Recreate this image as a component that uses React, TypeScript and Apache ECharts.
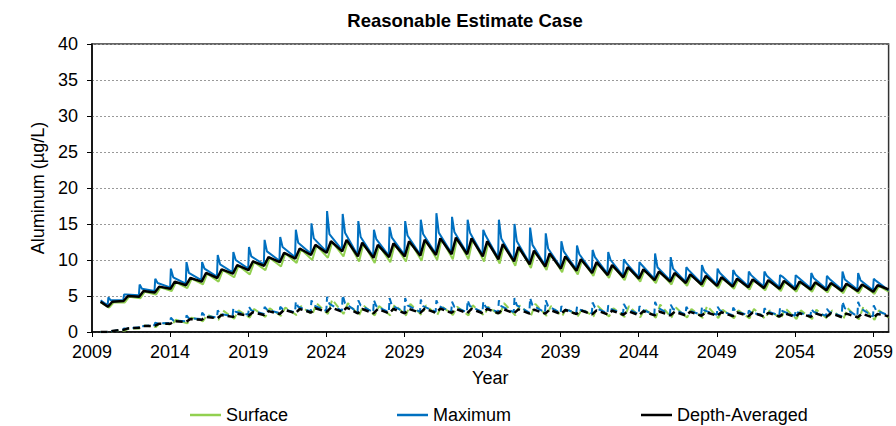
import React, { useEffect, useRef } from "react";
import * as echarts from "echarts";

// ---------- data ----------
const YEARS = [
  2010, 2011, 2012, 2013, 2014, 2015, 2016, 2017, 2018, 2019,
  2020, 2021, 2022, 2023, 2024, 2025, 2026, 2027, 2028, 2029,
  2030, 2031, 2032, 2033, 2034, 2035, 2036, 2037, 2038, 2039,
  2040, 2041, 2042, 2043, 2044, 2045, 2046, 2047, 2048, 2049,
  2050, 2051, 2052, 2053, 2054, 2055, 2056, 2057, 2058, 2059,
];
const X_TICKS = [2009, 2014, 2019, 2024, 2029, 2034, 2039, 2044, 2049, 2054, 2059];
const START_TIME = 2009.55;
const END_TIME = 2060;

// Upper band (solid lines)
const DA_LOW = [
  3.5, 4.3, 4.9, 5.5, 6.0, 6.5, 7.0, 7.5, 8.1, 8.6,
  9.2, 9.7, 10.2, 10.7, 11.0, 11.2, 10.5, 10.3, 10.4, 10.5,
  10.6, 10.7, 10.8, 10.8, 10.5, 10.1, 9.8, 9.4, 9.1, 8.8,
  8.5, 8.2, 7.9, 7.6, 7.4, 7.2, 7.0, 6.8, 6.6, 6.4,
  6.3, 6.2, 6.1, 6.0, 5.9, 5.9, 5.8, 5.7, 5.7, 5.6,
];
const DA_HIGH = [
  4.2, 5.0, 5.7, 6.3, 7.0, 7.5, 8.2, 8.7, 9.3, 9.8,
  10.4, 11.0, 11.6, 12.1, 12.6, 12.8, 12.4, 12.1, 12.3, 12.6,
  12.8, 13.0, 13.1, 13.0, 12.6, 12.2, 11.8, 11.3, 10.9, 10.5,
  10.1, 9.7, 9.3, 9.0, 8.7, 8.4, 8.2, 8.0, 7.8, 7.6,
  7.4, 7.3, 7.2, 7.1, 7.0, 6.9, 6.8, 6.7, 6.6, 6.5,
];
const DA_START = 4.2;
const DA_END = 5.9;

const MAX_LOW = [
  3.7, 4.4, 5.1, 5.7, 6.2, 6.7, 7.2, 7.7, 8.3, 8.8,
  9.4, 9.9, 10.4, 10.9, 11.2, 11.4, 10.7, 10.5, 10.6, 10.7,
  10.8, 10.9, 11.0, 11.0, 10.7, 10.3, 10.0, 9.6, 9.3, 9.0,
  8.7, 8.4, 8.1, 7.8, 7.6, 7.4, 7.2, 7.0, 6.8, 6.6,
  6.5, 6.4, 6.3, 6.2, 6.1, 6.1, 6.0, 5.9, 5.9, 5.8,
];
const MAX_SPIKE = [
  4.8, 5.2, 6.6, 7.4, 8.8, 9.7, 9.7, 10.7, 11.1, 11.8,
  12.8, 13.2, 14.2, 15.1, 16.8, 16.4, 15.4, 14.2, 14.6, 15.4,
  15.6, 16.5, 16.0, 15.6, 14.2, 15.6, 15.0, 14.5, 13.7, 12.6,
  12.0, 11.4, 11.1, 10.1, 9.7, 10.9, 10.4, 9.0, 9.3, 8.8,
  8.6, 8.4, 8.4, 7.9, 7.9, 8.2, 7.8, 8.4, 8.2, 7.4,
];
const MAX_MID = [
  4.4, 5.2, 6.0, 6.8, 7.6, 8.2, 8.8, 9.4, 10.0, 10.5,
  11.2, 11.8, 12.4, 13.0, 13.6, 13.8, 13.2, 12.9, 13.1, 13.4,
  13.6, 13.8, 13.9, 13.8, 13.4, 13.0, 12.6, 12.1, 11.6, 11.2,
  10.8, 10.4, 10.0, 9.6, 9.3, 9.0, 8.8, 8.6, 8.4, 8.2,
  8.0, 7.9, 7.8, 7.7, 7.6, 7.5, 7.4, 7.3, 7.2, 7.1,
];
const MAX_START = 4.4;
const MAX_END = 5.8;

const SURF_LOW = [
  3.4, 4.1, 4.7, 5.2, 5.7, 6.1, 6.6, 7.0, 7.6, 8.0,
  8.6, 9.1, 9.6, 10.0, 10.3, 10.5, 9.8, 9.6, 9.7, 9.8,
  9.9, 10.0, 10.1, 10.1, 9.8, 9.5, 9.2, 8.9, 8.6, 8.3,
  8.0, 7.8, 7.5, 7.2, 7.0, 6.8, 6.6, 6.4, 6.3, 6.1,
  6.0, 5.9, 5.8, 5.7, 5.6, 5.6, 5.5, 5.4, 5.4, 5.3,
];
const SURF_HIGH = [
  4.1, 4.9, 5.6, 6.2, 6.9, 7.4, 8.1, 8.6, 9.2, 9.7,
  10.3, 10.9, 11.5, 12.0, 12.5, 12.6, 12.3, 12.0, 12.2, 12.5,
  12.7, 12.9, 13.0, 12.9, 12.5, 12.1, 11.7, 11.2, 10.8, 10.4,
  10.0, 9.6, 9.2, 8.9, 8.6, 8.3, 8.1, 7.9, 7.7, 7.5,
  7.3, 7.2, 7.1, 7.0, 6.9, 6.8, 6.7, 6.6, 6.5, 6.4,
];
const SURF_START = 4.1;
const SURF_END = 5.6;

// Lower band (dashed lines)
const DA2_LOW = [
  0.0, 0.3, 0.6, 0.85, 1.15, 1.4, 1.7, 1.9, 2.1, 2.25,
  2.35, 2.5, 2.6, 2.7, 2.8, 2.8, 2.6, 2.6, 2.6, 2.6,
  2.65, 2.65, 2.65, 2.6, 2.6, 2.6, 2.6, 2.55, 2.55, 2.5,
  2.5, 2.45, 2.45, 2.4, 2.35, 2.3, 2.3, 2.3, 2.25, 2.25,
  2.2, 2.2, 2.15, 2.15, 2.1, 2.1, 2.1, 2.05, 2.05, 2.0,
];
const DA2_HIGH = [
  0.15, 0.5, 0.85, 1.15, 1.5, 1.8, 2.1, 2.35, 2.55, 2.75,
  2.9, 3.1, 3.2, 3.3, 3.4, 3.4, 3.2, 3.2, 3.2, 3.2,
  3.25, 3.25, 3.2, 3.2, 3.2, 3.2, 3.15, 3.1, 3.1, 3.05,
  3.0, 3.0, 2.95, 2.9, 2.9, 2.85, 2.8, 2.8, 2.75, 2.75,
  2.7, 2.7, 2.65, 2.65, 2.6, 2.6, 2.6, 2.55, 2.55, 2.5,
];
const DA2_START = 0.0;
const DA2_END = 2.2;

const MAX2_LOW = [
  0.0, 0.35, 0.65, 0.95, 1.25, 1.5, 1.8, 2.0, 2.2, 2.4,
  2.5, 2.65, 2.75, 2.85, 2.95, 2.95, 2.75, 2.75, 2.75, 2.75,
  2.8, 2.8, 2.8, 2.75, 2.75, 2.75, 2.75, 2.7, 2.7, 2.65,
  2.65, 2.6, 2.6, 2.55, 2.5, 2.45, 2.45, 2.45, 2.4, 2.4,
  2.35, 2.35, 2.3, 2.3, 2.25, 2.25, 2.25, 2.2, 2.2, 2.15,
];
const MAX2_SPIKE = [
  0.1, 0.5, 0.9, 1.3, 2.0, 2.3, 2.7, 3.0, 3.3, 3.5,
  3.5, 3.5, 4.2, 4.4, 4.9, 5.1, 4.4, 4.4, 4.7, 4.7,
  4.5, 4.4, 4.2, 4.4, 4.2, 4.4, 4.7, 4.7, 4.4, 3.6,
  3.5, 4.1, 3.7, 3.9, 3.6, 4.2, 3.8, 3.5, 3.5, 3.5,
  3.4, 3.0, 3.3, 3.4, 3.0, 3.2, 3.2, 4.2, 4.2, 3.7,
];
const MAX2_MID = [
  0.1, 0.45, 0.8, 1.2, 1.6, 1.9, 2.3, 2.5, 2.8, 3.0,
  3.1, 3.2, 3.5, 3.7, 3.9, 4.0, 3.7, 3.6, 3.7, 3.7,
  3.6, 3.6, 3.5, 3.6, 3.5, 3.6, 3.7, 3.7, 3.6, 3.2,
  3.1, 3.4, 3.2, 3.3, 3.1, 3.4, 3.2, 3.0, 3.0, 3.0,
  2.9, 2.7, 2.9, 2.9, 2.7, 2.8, 2.8, 3.3, 3.3, 3.0,
];
const MAX2_START = 0.0;
const MAX2_END = 2.3;

const SURF2_LOW = [
  0.0, 0.2, 0.5, 0.7, 1.0, 1.2, 1.5, 1.7, 1.85, 2.0,
  2.1, 2.25, 2.35, 2.4, 2.5, 2.5, 2.3, 2.3, 2.3, 2.3,
  2.35, 2.35, 2.35, 2.3, 2.3, 2.3, 2.3, 2.25, 2.25, 2.2,
  2.2, 2.15, 2.15, 2.1, 2.05, 2.0, 2.0, 2.0, 1.95, 1.95,
  1.9, 1.9, 1.85, 1.85, 1.8, 1.8, 1.8, 1.75, 1.75, 1.7,
];
const SURF2_HIGH = [
  0.15, 0.5, 0.9, 1.3, 1.7, 2.0, 2.4, 3.0, 3.0, 3.2,
  3.3, 3.4, 3.6, 4.0, 4.5, 4.0, 3.7, 3.6, 3.8, 3.9,
  3.7, 3.6, 3.5, 3.7, 3.5, 4.0, 3.7, 3.9, 3.6, 3.3,
  3.2, 3.6, 3.3, 3.6, 3.2, 3.8, 3.4, 3.2, 3.6, 3.1,
  3.0, 3.2, 3.0, 3.3, 3.0, 3.1, 3.0, 3.3, 3.5, 3.0,
];
const SURF2_START = 0.0;
const SURF2_END = 2.0;

// timing within each year (fraction of a year) of each reading
const PHASE = { daLow: 0.02, daHigh: 0.3, maxLow: 0.0, maxSpike: 0.05, maxMid: 0.2, surfLow: 0.1, surfHigh: 0.38 };

const COLORS = { surface: "#92D050", maximum: "#0070C0", depth: "#000000" };
const FONT = "'Liberation Sans', Arial, sans-serif";
const FS = 18;

type Pt = [number, number];
function build(start: number, end: number, parts: { off: number; vals: number[] }[]): Pt[] {
  const pts: Pt[] = [[START_TIME, start]];
  parts.forEach((p) => p.vals.forEach((v, i) => pts.push([YEARS[i] + p.off, v])));
  pts.sort((a, b) => a[0] - b[0]);
  pts.push([END_TIME, end]);
  return pts;
}

export default function App() {
  const ref = useRef<HTMLDivElement>(null);
  useEffect(() => {
    if (!ref.current) return;
    const chart = echarts.init(ref.current, null, { renderer: "svg" });

    const surf = build(SURF_START, SURF_END, [
      { off: PHASE.surfLow, vals: SURF_LOW },
      { off: PHASE.surfHigh, vals: SURF_HIGH },
    ]);
    const max = build(MAX_START, MAX_END, [
      { off: PHASE.maxLow, vals: MAX_LOW },
      { off: PHASE.maxSpike, vals: MAX_SPIKE },
      { off: PHASE.maxMid, vals: MAX_MID },
    ]);
    const da = build(DA_START, DA_END, [
      { off: PHASE.daLow, vals: DA_LOW },
      { off: PHASE.daHigh, vals: DA_HIGH },
    ]);
    const surf2 = build(SURF2_START, SURF2_END, [
      { off: PHASE.surfLow, vals: SURF2_LOW },
      { off: PHASE.surfHigh, vals: SURF2_HIGH },
    ]);
    const max2 = build(MAX2_START, MAX2_END, [
      { off: PHASE.maxLow, vals: MAX2_LOW },
      { off: PHASE.maxSpike, vals: MAX2_SPIKE },
      { off: PHASE.maxMid, vals: MAX2_MID },
    ]);
    const da2 = build(DA2_START, DA2_END, [
      { off: PHASE.daLow, vals: DA2_LOW },
      { off: PHASE.daHigh, vals: DA2_HIGH },
    ]);

    const line = (name: string, data: Pt[], color: string, width: number, dashed: boolean) => ({
      type: "line",
      name,
      data,
      showSymbol: false,
      symbol: "none",
      smooth: false,
      lineStyle: { color, width, type: dashed ? [7, 4] : "solid" },
      itemStyle: { color },
      emphasis: { disabled: true },
    });

    const legendBase = {
      top: 401,
      icon: "rect",
      itemWidth: 31,
      itemHeight: 2.5,
      textStyle: { fontSize: FS, color: "#000", fontFamily: FONT },
      selectedMode: false,
    };

    chart.setOption({
      animation: false,
      backgroundColor: "#fff",
      title: {
        text: "Reasonable Estimate Case",
        left: 460,
        top: 6,
        textAlign: "center",
        textStyle: { fontSize: 18.5, fontWeight: "bold", color: "#000", fontFamily: FONT },
      },
      legend: [
        { ...legendBase, left: 185, data: ["Surface"] },
        { ...legendBase, left: 392, data: ["Maximum"] },
        { ...legendBase, left: 636, data: ["Depth-Averaged"] },
      ],
      grid: {
        left: 92,
        right: 7,
        top: 44,
        bottom: 94,
        show: true,
        borderColor: "#333",
        borderWidth: 1.5,
        backgroundColor: "transparent",
      },
      xAxis: {
        type: "value",
        min: X_TICKS[0],
        max: END_TIME,
        interval: 5,
        name: "Year",
        nameLocation: "middle",
        nameGap: 37,
        nameTextStyle: { fontSize: FS, color: "#000", fontFamily: FONT },
        axisLine: { show: true, lineStyle: { color: "#000", width: 1.5 } },
        axisTick: { show: true, length: 5, lineStyle: { color: "#000" } },
        axisLabel: {
          fontSize: FS,
          color: "#000",
          fontFamily: FONT,
          margin: 11,
          showMaxLabel: false,
          formatter: (v: number) => (X_TICKS.includes(v) ? String(v) : ""),
        },
        splitLine: { show: false },
      },
      yAxis: {
        type: "value",
        min: 0,
        max: 40,
        interval: 5,
        name: "Aluminum (µg/L)",
        nameLocation: "middle",
        nameGap: 43,
        nameTextStyle: { fontSize: FS, color: "#000", fontFamily: FONT },
        axisLine: { show: true, lineStyle: { color: "#000", width: 1.5 } },
        axisTick: { show: true, length: 5, lineStyle: { color: "#000" } },
        axisLabel: { fontSize: FS, color: "#000", fontFamily: FONT, margin: 14 },
        splitLine: { show: true, lineStyle: { color: "#999", type: [2, 2], width: 1 } },
      },
      series: [
        line("Surface", surf, COLORS.surface, 2, false),
        line("Maximum", max, COLORS.maximum, 2, false),
        line("Depth-Averaged", da, COLORS.depth, 2.5, false),
        line("Surface (lower)", surf2, COLORS.surface, 2, true),
        line("Maximum (lower)", max2, COLORS.maximum, 2, true),
        line("Depth-Averaged (lower)", da2, COLORS.depth, 2.5, true),
      ],
    });
    return () => chart.dispose();
  }, []);

  return (
    <div
      ref={ref}
      style={{ position: "fixed", left: 0, top: 0, width: 896, height: 426, background: "#fff" }}
    />
  );
}
